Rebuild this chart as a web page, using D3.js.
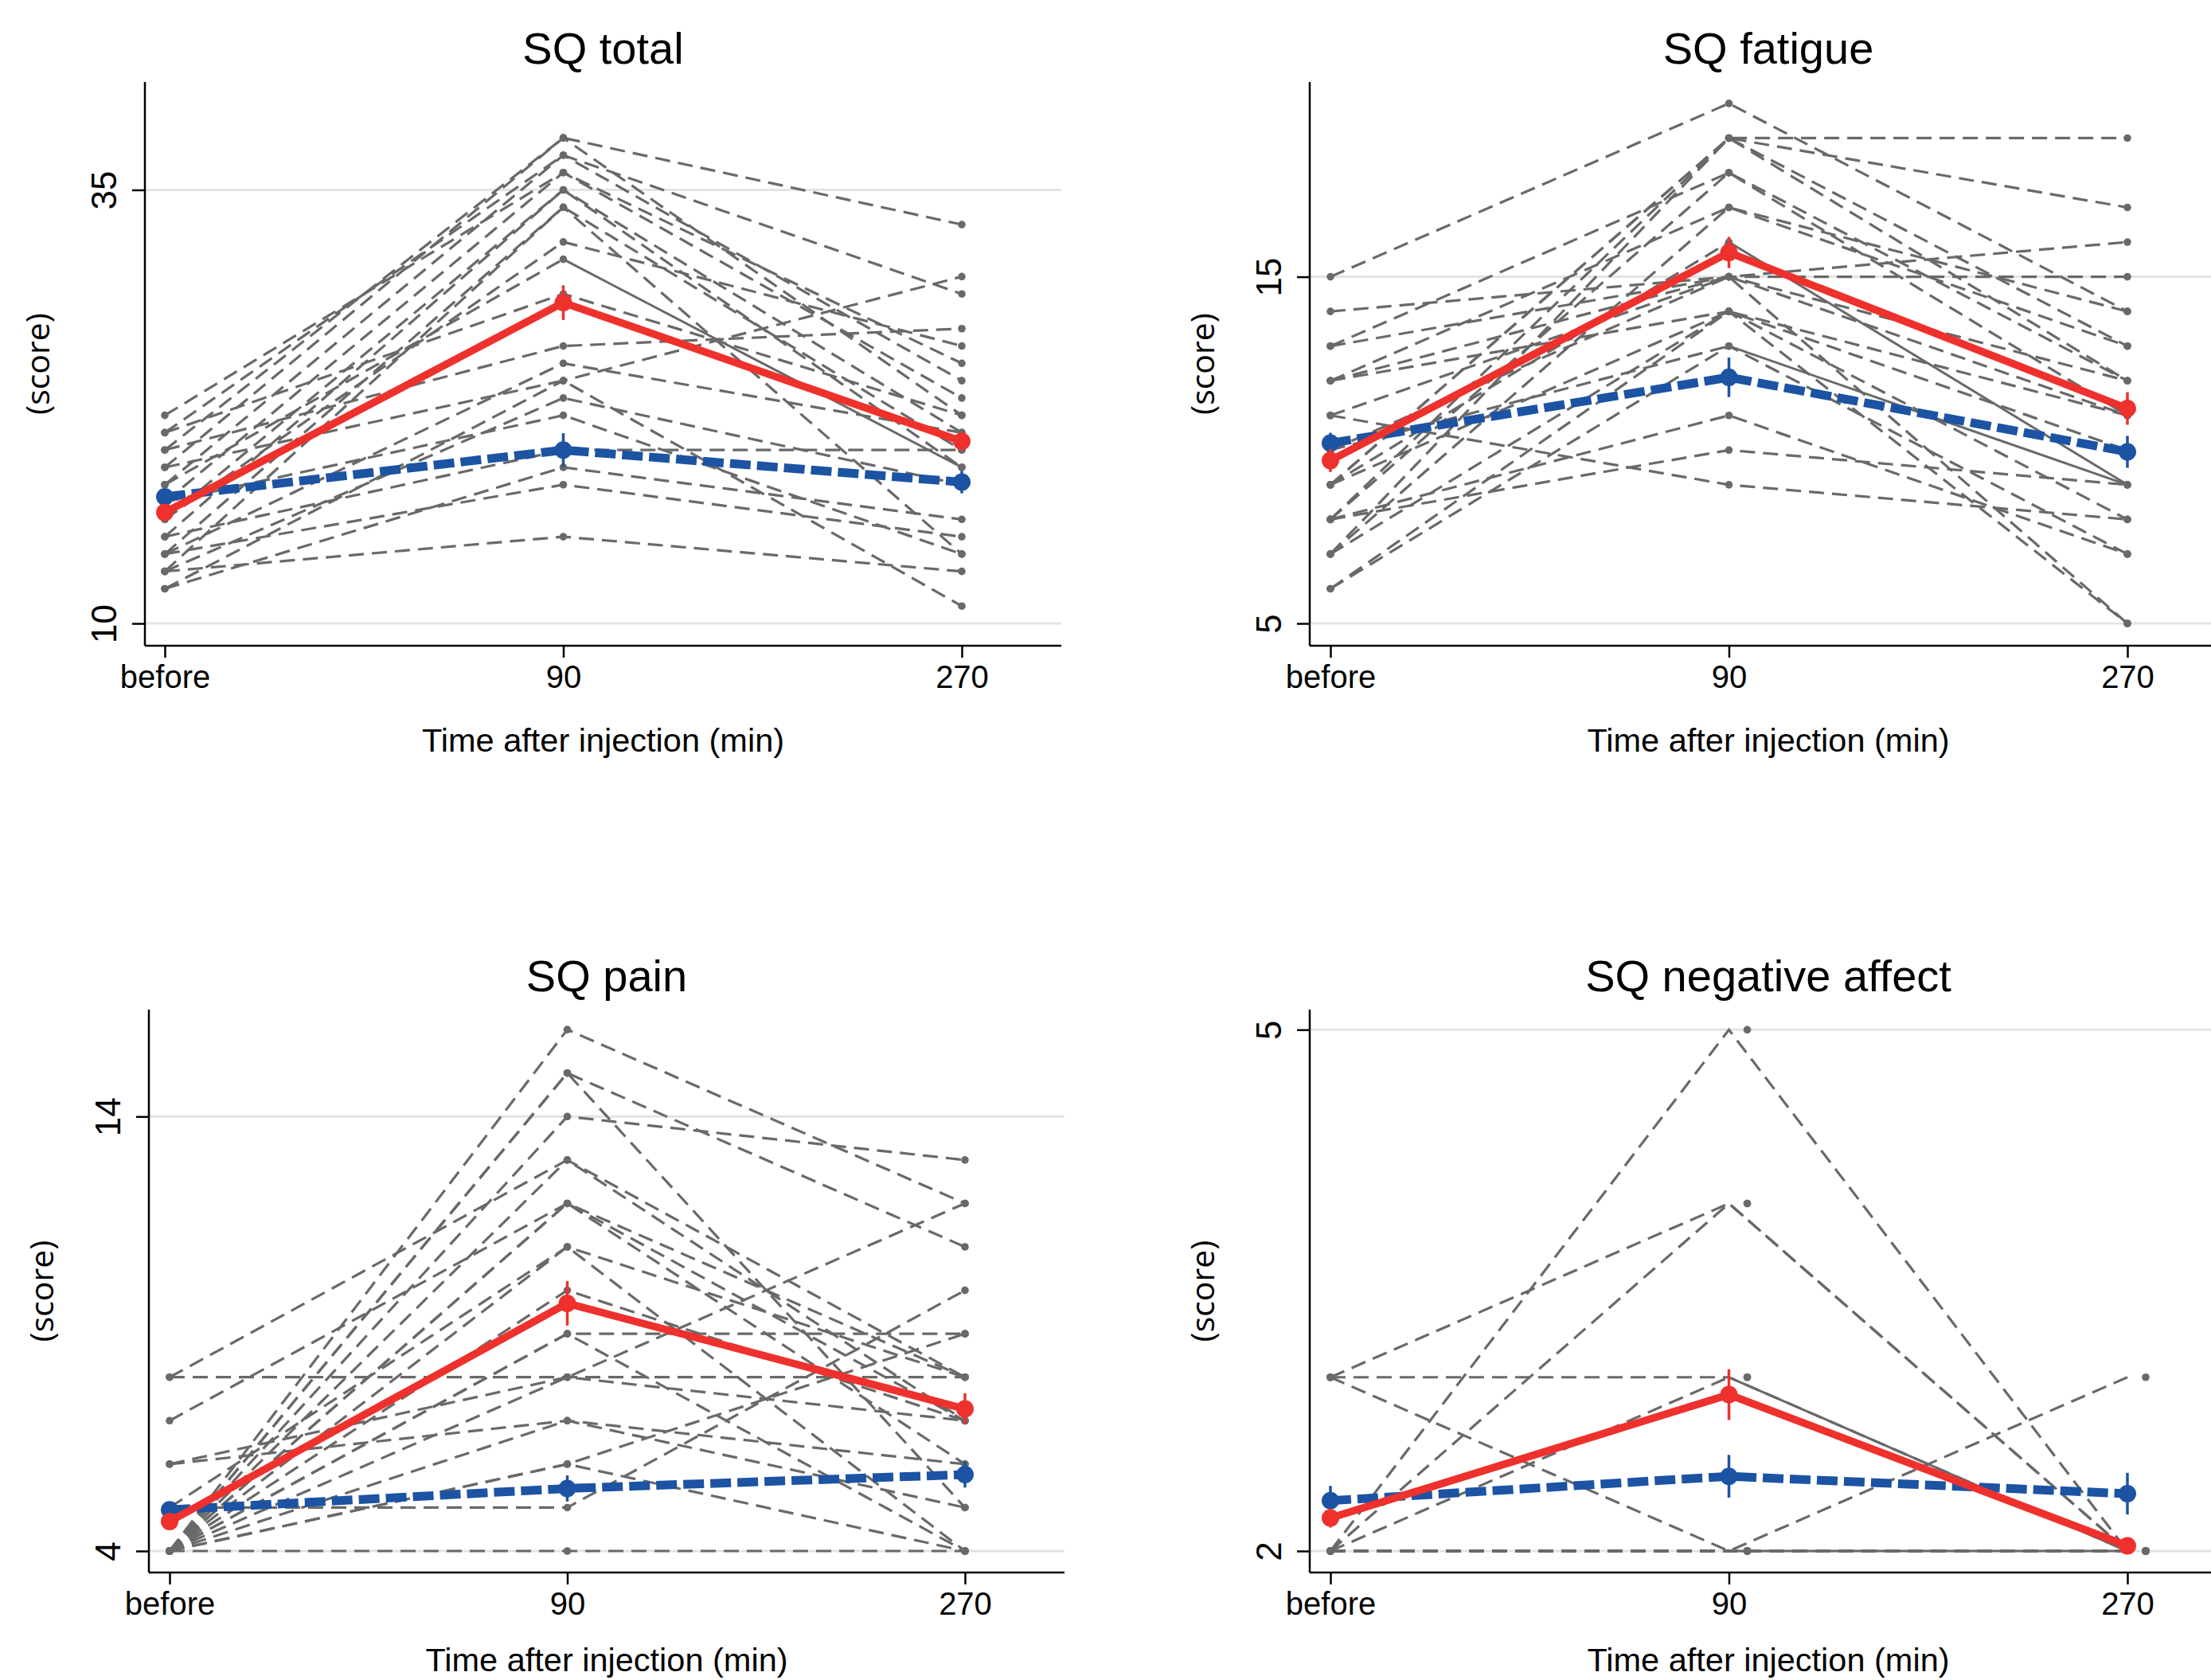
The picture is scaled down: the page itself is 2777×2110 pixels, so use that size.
<!DOCTYPE html>
<html>
<head>
<meta charset="utf-8">
<script src="https://cdn.jsdelivr.net/npm/d3@7"></script>
<style>
  body { margin: 0; background: #fff; }
  svg { display: block; }
</style>
</head>
<body>
<script>
const timeLabels = ["before", "90", "270"]

// one row per subject: score at [before, 90, 270]
const totalSubjects = [
  [20, 38, 33], [19, 38, 22], [21, 37, 29], [18, 37, 24], [17, 36, 25], [22, 36, 23],
  [16, 35, 21], [15, 35, 19], [14, 34, 20], [13, 34, 14], [16, 32, 26], [18, 31, 19],
  [21, 29, 22], [20, 26, 27], [14, 25, 21], [12, 24, 30], [19, 24, 11], [13, 23, 18],
  [17, 22, 14], [15, 20, 20], [12, 19, 16], [14, 18, 15], [13, 15, 13]
]
const totalRed = [16.4, 28.5, 20.5]
const totalRedErr = [0.4, 1.0, 0.5]
const totalBlue = [17.3, 20.0, 18.15]
const totalBlueErr = [0.4, 0.97, 0.65]
const totalTicks = [10, 35]

const fatigueSubjects = [
  [15, 20, 14], [9, 19, 19], [8, 19, 17], [7, 19, 13], [9, 19, 12], [8, 18, 12],
  [13, 18, 11], [7, 17, 14], [12, 17, 13], [9, 16, 9], [13, 15, 16], [14, 15, 15],
  [12, 15, 5], [11, 15, 12], [10, 15, 11], [12, 14, 10], [6, 14, 8], [10, 13, 9],
  [6, 13, 7], [8, 11, 7], [8, 10, 9], [11, 9, 8], [7, 14, 5], [9, 14, 11]
]
const fatigueRed = [9.7, 15.7, 11.2]
const fatigueRedErr = [0.33, 0.45, 0.47]
const fatigueBlue = [10.2, 12.1, 9.95]
const fatigueBlueErr = [0.3, 0.57, 0.46]
const fatigueTicks = [5, 15]

const painSubjects = [
  [4, 16, 12], [4, 15, 11], [4, 15, 5], [4, 14, 13], [8, 13, 7], [4, 13, 8],
  [7, 12, 8], [4, 12, 6], [4, 12, 7], [5, 11, 8], [4, 11, 4], [4, 10, 7],
  [4, 9, 9], [4, 9, 4], [8, 8, 8], [4, 8, 12], [6, 7, 6], [4, 6, 4],
  [5, 5, 10], [4, 4, 4], [6, 8, 7], [4, 6, 9], [4, 7, 5]
]
const painRed = [4.68, 9.7, 7.27]
const painRedErr = [0.16, 0.51, 0.36]
const painBlue = [4.95, 5.44, 5.76]
const painBlueErr = [0.14, 0.3, 0.3]
const painTicks = [4, 14]

const negSubjects = [
  [2, 5, 2], [3, 4, 2], [2, 4, 2], [3, 3, 2], [2, 3, 2], [3, 2, 3],
  [2, 2, 2], [2, 2, 2], [2, 2, 2], [2, 2, 2], [2, 2, 2], [2, 2, 2], [2, 2, 2]
]
const negRed = [2.19, 2.9, 2.03]
const negRedErr = [0.055, 0.146, 0.02]
const negBlue = [2.29, 2.43, 2.33]
const negBlueErr = [0.085, 0.123, 0.12]
const negTicks = [2, 5]

const w = 2777
const h = 2110
const gray = "#696969"
const red = "#ee312d"
const blue = "#1c53a3"

// layout of the four panels (pixel geometry only)
const panels = [
  {title: "SQ total", subjects: totalSubjects, red: totalRed, redErr: totalRedErr,
   blue: totalBlue, blueErr: totalBlueErr, ticks: totalTicks, solidSecond: [11],
   x0: 182, x1: 1333, bx: 207, ex: 1208, top: 103, bottom: 811, yLo: 783, yHi: 238.5,
   dotShift: 0, xTitleGap: 133},
  {title: "SQ fatigue", subjects: fatigueSubjects, red: fatigueRed, redErr: fatigueRedErr,
   blue: fatigueBlue, blueErr: fatigueBlueErr, ticks: fatigueTicks, solidSecond: [9, 17],
   x0: 1645, x1: 2797, bx: 1671, ex: 2672, top: 103, bottom: 811, yLo: 783, yHi: 347.6,
   dotShift: 0, xTitleGap: 133},
  {title: "SQ pain", subjects: painSubjects, red: painRed, redErr: painRedErr,
   blue: painBlue, blueErr: painBlueErr, ticks: painTicks, solidSecond: [],
   x0: 187, x1: 1337, bx: 213, ex: 1212, top: 1268, bottom: 1975, yLo: 1948, yHi: 1402.3,
   dotShift: 0, xTitleGap: 124},
  {title: "SQ negative affect", subjects: negSubjects, red: negRed, redErr: negRedErr,
   blue: negBlue, blueErr: negBlueErr, ticks: negTicks, solidSecond: [4, 6],
   x0: 1645, x1: 2797, bx: 1671, ex: 2672, top: 1268, bottom: 1975, yLo: 1948, yHi: 1293.3,
   dotShift: 23, xTitleGap: 124}
]

const svg = d3.select("body")
              .append("svg")
              .attr("width", w)
              .attr("height", h)

panels.forEach((p) => {
    const g = svg.append("g")
    const xScale = d3.scalePoint()
                     .domain(timeLabels)
                     .range([p.bx, p.ex])
    const yScale = d3.scaleLinear()
                     .domain(p.ticks)
                     .range([p.yLo, p.yHi])
    const line = d3.line()
                   .x((d) => xScale(d[0]))
                   .y((d) => yScale(d[1]))

    // gridlines
    g.selectAll(".grid")
     .data(p.ticks)
     .enter()
     .append("line")
     .attr("x1", p.x0)
     .attr("x2", p.x1)
     .attr("y1", (d) => yScale(d))
     .attr("y2", (d) => yScale(d))
     .attr("stroke", "#e3e3e3")
     .attr("stroke-width", 3)

    // individual subjects
    p.subjects.forEach((s, i) => {
        const pts = s.map((v, k) => [timeLabels[k], v])
        if (p.solidSecond.includes(i)) {
            g.append("path")
             .attr("d", line(pts.slice(0, 2)))
             .attr("fill", "none").attr("stroke", gray).attr("stroke-width", 3.2)
             .attr("stroke-dasharray", "19 10")
            g.append("path")
             .attr("d", line(pts.slice(1)))
             .attr("fill", "none").attr("stroke", gray).attr("stroke-width", 3)
        } else {
            g.append("path")
             .attr("d", line(pts))
             .attr("fill", "none").attr("stroke", gray).attr("stroke-width", 3.2)
             .attr("stroke-dasharray", "19 10")
        }
    })
    p.subjects.forEach((s) => {
        g.selectAll(null)
         .data(s)
         .enter()
         .append("circle")
         .attr("cx", (d, k) => xScale(timeLabels[k]) + (k > 0 ? p.dotShift : 0))
         .attr("cy", (d) => yScale(d))
         .attr("r", 4.8)
         .attr("fill", gray)
    })

    // group means with error bars
    const drawMean = (vals, errs, color, width, dash) => {
        const pts = vals.map((v, k) => [timeLabels[k], v])
        g.append("path")
         .attr("d", line(pts))
         .attr("fill", "none")
         .attr("stroke", color)
         .attr("stroke-width", width)
         .attr("stroke-dasharray", dash)
        g.selectAll(null)
         .data(vals)
         .enter()
         .append("line")
         .attr("x1", (d, k) => xScale(timeLabels[k]))
         .attr("x2", (d, k) => xScale(timeLabels[k]))
         .attr("y1", (d, k) => yScale(d - errs[k]))
         .attr("y2", (d, k) => yScale(d + errs[k]))
         .attr("stroke", color)
         .attr("stroke-width", 3.5)
        g.selectAll(null)
         .data(vals)
         .enter()
         .append("circle")
         .attr("cx", (d, k) => xScale(timeLabels[k]))
         .attr("cy", (d) => yScale(d))
         .attr("r", 11)
         .attr("fill", color)
    }
    drawMean(p.blue, p.blueErr, blue, 11, "26 8")
    drawMean(p.red, p.redErr, red, 9.5, null)

    // axes
    const yAxis = d3.axisLeft(yScale)
                    .tickValues(p.ticks)
                    .tickSize(16)
                    .tickFormat(d3.format("d"))
    g.append("g")
     .attr("transform", "translate(" + p.x0 + ", 0)")
     .call(yAxis)
     .call((a) => a.select(".domain").remove())
     .call((a) => a.selectAll("line").attr("stroke", "#000").attr("stroke-width", 2.5))
     .call((a) => a.selectAll("text")
                   .attr("transform", "rotate(-90)")
                   .attr("x", 0)
                   .attr("y", -36)
                   .attr("dy", 0)
                   .attr("text-anchor", "middle")
                   .attr("fill", "#000")
                   .style("font-family", "'Liberation Sans Narrow', 'Liberation Sans', sans-serif")
                   .style("font-size", "44px"))

    const xAxis = d3.axisBottom(xScale)
                    .tickSize(15)
    g.append("g")
     .attr("transform", "translate(0, " + p.bottom + ")")
     .call(xAxis)
     .call((a) => a.select(".domain").remove())
     .call((a) => a.selectAll("line").attr("stroke", "#000").attr("stroke-width", 2.5))
     .call((a) => a.selectAll("text")
                   .attr("y", 53)
                   .attr("dy", 0)
                   .attr("fill", "#000")
                   .style("font-family", "'Liberation Sans', Arial, sans-serif")
                   .style("font-size", "40px"))

    g.append("line")
     .attr("x1", p.x0).attr("x2", p.x0)
     .attr("y1", p.top).attr("y2", p.bottom)
     .attr("stroke", "#000").attr("stroke-width", 2.5)
    g.append("line")
     .attr("x1", p.x0).attr("x2", p.x1)
     .attr("y1", p.bottom).attr("y2", p.bottom)
     .attr("stroke", "#000").attr("stroke-width", 2.5)

    // texts
    const cx = (p.x0 + p.x1) / 2
    g.append("text")
     .attr("x", cx)
     .attr("y", p.top - 23)
     .attr("text-anchor", "middle")
     .style("font-family", "'Liberation Sans', Arial, sans-serif")
     .style("font-size", "56px")
     .text(p.title)
    g.append("text")
     .attr("x", cx)
     .attr("y", p.bottom + p.xTitleGap)
     .attr("text-anchor", "middle")
     .style("font-family", "'Liberation Sans', Arial, sans-serif")
     .style("font-size", "41.5px")
     .text("Time after injection (min)")
    g.append("text")
     .attr("transform", "translate(" + (p.x0 - 120) + ", " + ((p.top + p.bottom) / 2) + ") rotate(-90)")
     .attr("text-anchor", "middle")
     .style("font-family", "'Open Sans', sans-serif")
     .style("font-size", "41px")
     .text("(score)")
})
</script>
</body>
</html>
